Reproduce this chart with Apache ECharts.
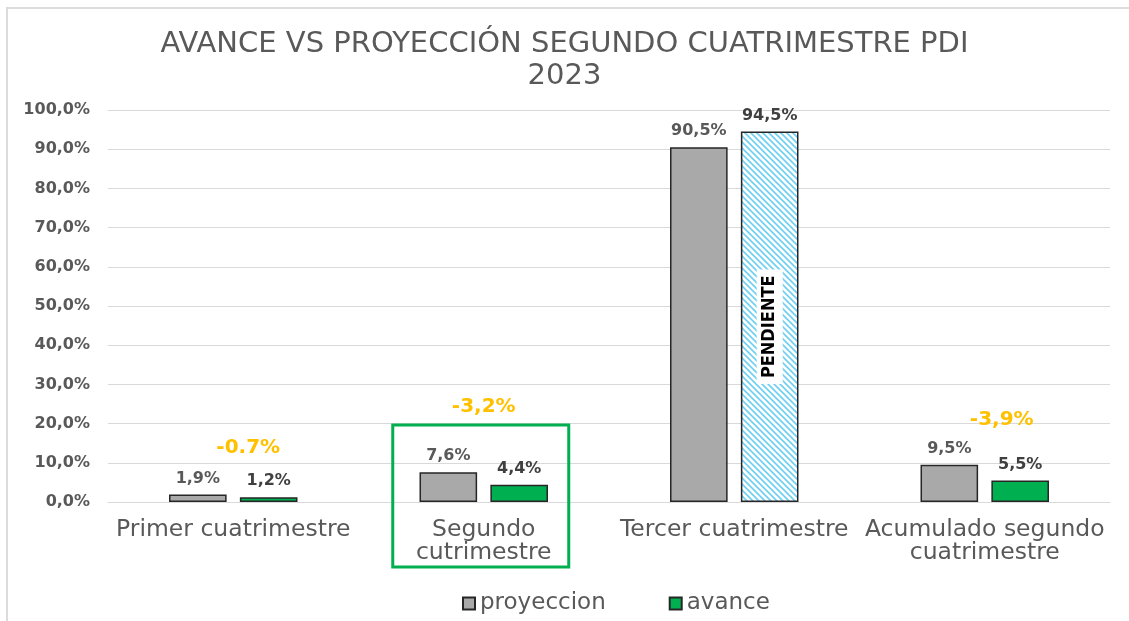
<!DOCTYPE html>
<html>
<head>
<meta charset="utf-8">
<script src="https://cdn.jsdelivr.net/npm/echarts@6/dist/echarts.min.js"></script>
<style>
html, body { margin: 0; padding: 0; background: #fff; }
#main { width: 1129px; height: 621px; }
</style>
</head>
<body>
<div id="main"></div>
<script>
// datos del grafico (porcentajes)
var categorias = ['Primer cuatrimestre', 'Segundo\ncutrimestre', 'Tercer cuatrimestre', 'Acumulado segundo\ncuatrimestre'];
var proyeccion = [1.9, 7.6, 90.5, 9.5];
var avance = [1.2, 4.4, 94.5, 5.5];
var diferencia = ['-0.7%', '-3,2%', '', '-3,9%'];
var pendiente = 2;      // categoria cuyo avance aun no se reporta
var resaltada = 1;      // categoria enmarcada en verde
var ticksY = [0, 10, 20, 30, 40, 50, 60, 70, 80, 90, 100];

var gris = '#595959';
var anchoBarra = 0.23, separacion = 0.23;

// textura rayada para la barra pendiente
function rayado() {
    var s = 6;
    var c = document.createElement('canvas');
    c.width = s; c.height = s;
    var ctx = c.getContext('2d');
    ctx.fillStyle = '#ffffff';
    ctx.fillRect(0, 0, s, s);
    ctx.strokeStyle = '#6DCFF2';
    ctx.lineWidth = 1.6;
    ctx.beginPath();
    ctx.moveTo(-1, -1); ctx.lineTo(s + 1, s + 1);
    ctx.moveTo(-1, s - 1); ctx.lineTo(1, s + 1);
    ctx.moveTo(s - 1, -1); ctx.lineTo(s + 1, 1);
    ctx.stroke();
    return c;
}

function fmt(v) {
    return v.toFixed(1).replace('.', ',') + '%';
}

var datosAvance = avance.map(function (v, i) {
    if (i === pendiente) {
        return { value: v, itemStyle: { color: { image: rayado(), repeat: 'repeat' } } };
    }
    return v;
});

// desplazamientos de las etiquetas de diferencia (px)
var despDif = [[15, -47], [0, -65], [0, 0], [17, -45]];

var myecharts = echarts.init(document.getElementById('main'));
var option = {
    backgroundColor: '#fff',
    animation: false,
    title: {
        text: 'AVANCE VS PROYECCIÓN SEGUNDO CUATRIMESTRE PDI\n2023',
        left: 'center',
        top: 23,
        textStyle: {
            fontFamily: '"DejaVu Sans", sans-serif',
            fontWeight: 'normal',
            fontSize: 29,
            lineHeight: 32,
            color: gris
        }
    },
    graphic: [{
        type: 'rect',
        shape: { x: 7, y: 8, width: 1200, height: 700 },
        style: { fill: 'none', stroke: '#DCDCDC', lineWidth: 2 },
        silent: true
    }],
    legend: {
        data: ['proyeccion', 'avance'],
        bottom: 6,
        left: 462,
        padding: 0,
        icon: 'rect',
        itemWidth: 12,
        itemHeight: 12,
        itemGap: 63,
        textStyle: { color: gris, fontSize: 23, fontFamily: 'DejaVu Sans' }
    },
    grid: { left: 108, right: 19, top: 110, bottom: 119 },
    xAxis: {
        type: 'category',
        data: categorias,
        axisLine: { lineStyle: { color: '#D9D9D9' } },
        axisTick: { show: false },
        axisLabel: {
            color: gris,
            fontSize: 23.5,
            lineHeight: 23,
            margin: 16,
            fontFamily: 'DejaVu Sans',
            interval: 0
        }
    },
    yAxis: {
        type: 'value',
        min: ticksY[0],
        max: ticksY[ticksY.length - 1],
        interval: 10,
        axisLine: { show: false },
        axisTick: { show: false },
        splitLine: { lineStyle: { color: '#D9D9D9' } },
        axisLabel: {
            color: gris,
            fontSize: 16,
            fontWeight: 'bold',
            fontFamily: 'DejaVu Sans',
            margin: 18,
            formatter: fmt
        }
    },
    series: [
        {
            name: 'proyeccion',
            type: 'bar',
            barWidth: (anchoBarra * 100) + '%',
            barGap: (separacion * 100) + '%',
            data: proyeccion,
            itemStyle: { color: '#A9A9A9', borderColor: '#262626', borderWidth: 1.5 },
            label: {
                show: true,
                position: 'top',
                distance: 8,
                color: gris,
                fontSize: 16,
                fontWeight: 'bold',
                fontFamily: 'DejaVu Sans',
                formatter: function (p) { return fmt(p.value); }
            }
        },
        {
            name: 'avance',
            type: 'bar',
            barWidth: (anchoBarra * 100) + '%',
            data: datosAvance,
            itemStyle: { color: '#00B050', borderColor: '#262626', borderWidth: 1.5 },
            label: {
                show: true,
                position: 'top',
                distance: 8,
                color: '#404040',
                fontSize: 16,
                fontWeight: 'bold',
                fontFamily: 'DejaVu Sans',
                formatter: function (p) { return fmt(p.value); }
            }
        },
        {
            // etiquetas de diferencia en naranja
            name: 'diferencia',
            type: 'custom',
            z: 5,
            data: diferencia.map(function (d, i) { return [i, Math.max(proyeccion[i], avance[i])]; })
                .filter(function (d) { return diferencia[d[0]] !== ''; }),
            encode: { x: 0, y: 1 },
            renderItem: function (params, api) {
                var i = api.value(0);
                var p = api.coord([i, api.value(1)]);
                return {
                    type: 'text',
                    x: p[0] + despDif[i][0],
                    y: p[1] + despDif[i][1],
                    style: {
                        text: diferencia[i],
                        fill: '#FFC000',
                        fontSize: 20,
                        fontWeight: 'bold',
                        fontFamily: 'DejaVu Sans',
                        align: 'center',
                        verticalAlign: 'middle'
                    }
                };
            }
        },
        {
            // texto PENDIENTE dentro de la barra rayada
            name: 'pendiente',
            type: 'custom',
            z: 5,
            data: [[pendiente, avance[pendiente] / 2]],
            encode: { x: 0, y: 1 },
            renderItem: function (params, api) {
                var p = api.coord([api.value(0), api.value(1)]);
                var banda = api.size([1, 0])[0];
                var bw = banda * anchoBarra;
                var dx = bw / 2 + bw * separacion / 2;
                return {
                    type: 'text',
                    x: p[0] + dx,
                    y: p[1] + 10,
                    rotation: Math.PI / 2,
                    style: {
                        text: 'PENDIENTE',
                        fill: '#000',
                        fontSize: 18,
                        fontWeight: 'bold',
                        fontFamily: '"DejaVu Sans Condensed", "Liberation Sans Narrow", "DejaVu Sans", sans-serif',
                        align: 'center',
                        verticalAlign: 'middle',
                        backgroundColor: '#fff',
                        padding: [4, 6]
                    }
                };
            }
        },
        {
            // recuadro verde de la categoria resaltada
            name: 'recuadro',
            type: 'custom',
            z: 4,
            clip: false,
            data: [[resaltada, 0]],
            encode: { x: 0, y: 1 },
            renderItem: function (params, api) {
                var p = api.coord([api.value(0), 0]);
                return {
                    type: 'rect',
                    shape: { x: p[0] - 91, y: p[1] - 77, width: 176, height: 142 },
                    style: { fill: 'none', stroke: '#00B050', lineWidth: 3 }
                };
            }
        }
    ]
};
myecharts.setOption(option);
</script>
</body>
</html>
